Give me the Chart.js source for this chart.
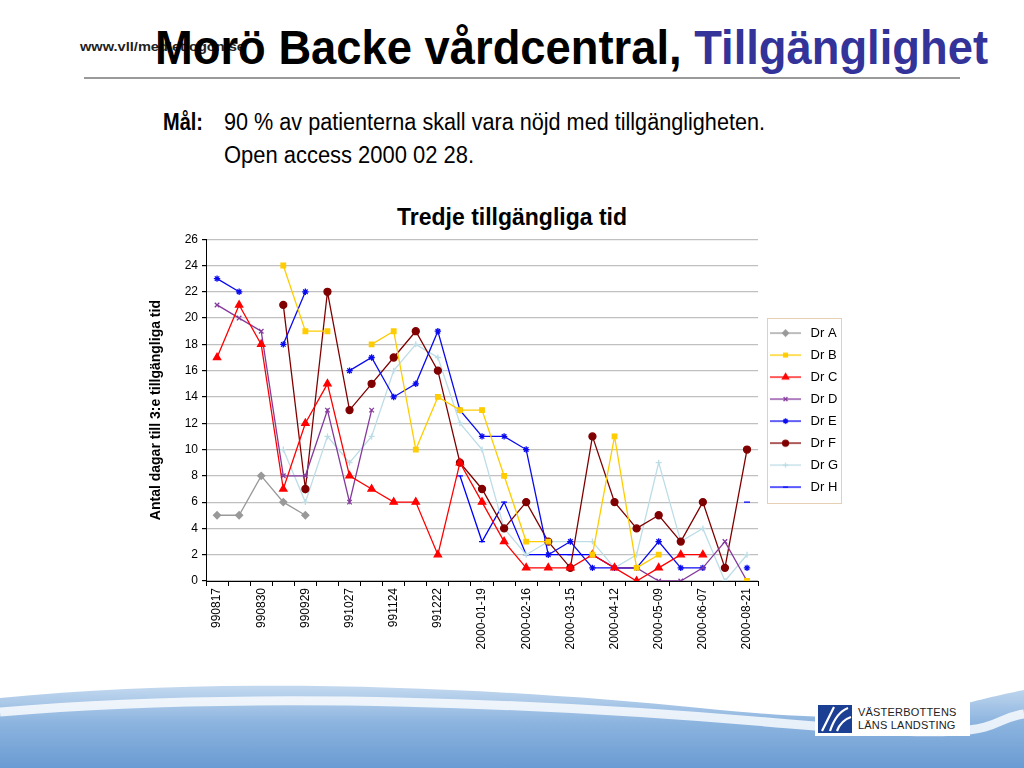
<!DOCTYPE html>
<html lang="sv">
<head>
<meta charset="UTF-8">
<title>Morö Backe vårdcentral, Tillgänglighet</title>
<script src="https://cdn.jsdelivr.net/npm/chart.js"></script>
<style>
    html, body { margin: 0; padding: 0; }
    body {
        width: 1024px;
        height: 768px;
        position: relative;
        overflow: hidden;
        background: #fff;
        font-family: 'Liberation Sans', Arial, sans-serif;
    }
    .abs { position: absolute; white-space: nowrap; line-height: 1; transform-origin: 0 0; }
    #url { left: 80px; top: 41px; font-size: 12px; font-weight: bold; color: #222; }
    #rubrik { left: 155px; top: 24px; font-size: 48px; font-weight: bold; color: #000; }
    #rubrik span { color: #333399; }
    #linje { position: absolute; left: 84px; top: 77px; width: 876px; height: 2px; background: #9a9a9a; }
    #malEtikett { left: 163px; top: 111px; font-size: 23px; font-weight: bold; }
    #mal { left: 224px; top: 111px; font-size: 23px; }
    #open { left: 224px; top: 144px; font-size: 23px; }
    #diagramrubrik { left: 0; width: 1024px; text-align: center; top: 206px; font-size: 23px; font-weight: bold; }
    #ruta { position: absolute; left: 140px; top: 228px; width: 710px; height: 433px; }
    #botten { position: absolute; left: 0; top: 668px; }
    #logo { position: absolute; left: 815px; top: 700px; width: 155px; height: 36px; background: #fff; }
    #logo .t { position: absolute; left: 43px; font-size: 11px; color: #222; letter-spacing: 0.2px; }
</style>
</head>
<body>
<div id="url" class="abs">www.vll/medlet.ogon.se</div>
<div id="rubrik" class="abs">Morö Backe vårdcentral, <span>Tillgänglighet</span></div>
<div id="linje"></div>
<div id="malEtikett" class="abs">Mål:</div>
<div id="mal" class="abs">90 % av patienterna skall vara nöjd med tillgängligheten.</div>
<div id="open" class="abs">Open access 2000 02 28.</div>
<div id="diagramrubrik" class="abs">Tredje tillgängliga tid</div>
<div id="ruta"><canvas id="diagram"></canvas></div>

<svg id="botten" width="1024" height="100" viewBox="0 0 1024 100">
    <defs>
        <linearGradient id="bla" x1="0" y1="0" x2="0" y2="1">
            <stop offset="0" stop-color="#c4d9ef"/>
            <stop offset="0.45" stop-color="#8cb4df"/>
            <stop offset="1" stop-color="#6a9bd3"/>
        </linearGradient>
    </defs>
    <path d="M0,30 C220,8 480,18 700,40 S930,40 1024,22 L1024,100 L0,100 Z" fill="url(#bla)"/>
    <path d="M0,44 C260,22 560,36 790,56 S980,52 1024,46" fill="none" stroke="#ffffff" stroke-opacity="0.8" stroke-width="9"/>
</svg>
<div id="logo">
    <svg width="34" height="28" viewBox="0 0 34 28" style="position:absolute;left:3px;top:5px">
        <rect width="34" height="28" fill="#1b3f92"/>
        <path d="M4,26 L16,2 M12,26 C16,14 22,6 30,3 M19,26 C22,18 27,14 33,12" stroke="#fff" stroke-width="2.2" fill="none"/>
    </svg>
    <div class="t" style="top:6px">VÄSTERBOTTENS</div>
    <div class="t" style="top:19px">LÄNS LANDSTING</div>
</div>

<script>
    // mätdatum (varannan kategori saknar etikett i originalet)
    const datum = ['990817', '', '990830', '', '990929', '', '991027', '', '991124', '', '991222', '',
        '2000-01-19', '', '2000-02-16', '', '2000-03-15', '', '2000-04-12', '', '2000-05-09', '',
        '2000-06-07', '', '2000-08-21'];

    const drA = [5, 5, 8, 6, 5, null, null, null, null, null, null, null, null, null, null, null, null, null, null, null, null, null, null, null, null];
    const drB = [null, null, null, 24, 19, 19, null, 18, 19, 10, 14, 13, 13, 8, 3, 3, null, 2, 11, 1, 2, null, null, null, 0];
    const drC = [17, 21, 18, 7, 12, 15, 8, 7, 6, 6, 2, 9, 6, 3, 1, 1, 1, 2, 1, 0, 1, 2, 2, null, null];
    const drD = [21, 20, 19, 8, 8, 13, 6, 13, null, null, null, null, null, null, null, null, null, null, 1, 1, 0, 0, 1, 3, 0];
    const drE = [23, 22, null, 18, 22, null, 16, 17, 14, 15, 19, 13, 11, 11, 10, 2, 3, 1, 1, 1, 3, 1, 1, null, 1];
    const drF = [null, null, null, 21, 7, 22, 13, 15, 17, 19, 16, 9, 7, 4, 6, 3, 1, 11, 6, 4, 5, 3, 6, 1, 10];
    const drG = [null, null, null, 10, 6, 11, 9, 11, 16, 18, 17, 12, 10, 4, 2, 3, 3, 3, 1, 2, 9, 3, 4, 0, 2];
    const drH = [null, null, null, null, null, null, null, null, null, null, null, 8, 3, 6, 2, 2, 2, 2, 1, 1, null, null, null, null, 6];

    const namn = ['Dr A', 'Dr B', 'Dr C', 'Dr D', 'Dr E', 'Dr F', 'Dr G', 'Dr H'];
    const serier = [drA, drB, drC, drD, drE, drF, drG, drH];
    const farger = ['#999999', '#ffcc00', '#ff0000', '#84399c', '#0a0aee', '#800000', '#bddde6', '#0000ff'];
    const markorer = ['rectRot', 'rect', 'triangle', 'crossRot', 'star', 'circle', 'cross', 'line'];
    const radier = [3.5, 3.2, 4.2, 3.2, 3.2, 3.5, 3, 3];

    function passaBredd(id, bredd) {
        const el = document.getElementById(id);
        const w = el.getBoundingClientRect().width;
        el.style.transform = 'scaleX(' + (bredd / w) + ')';
    }
    passaBredd('url', 165);
    passaBredd('rubrik', 833);
    passaBredd('malEtikett', 40);
    passaBredd('mal', 541);
    passaBredd('open', 250);

    // små ikoner med linje + markör till förklaringen
    function ikon(i) {
        const c = document.createElement('canvas');
        c.width = 31;
        c.height = 12;
        const ctx = c.getContext('2d');
        ctx.strokeStyle = farger[i];
        ctx.fillStyle = farger[i];
        ctx.lineWidth = 1.3;
        ctx.beginPath();
        ctx.moveTo(0, 6);
        ctx.lineTo(31, 6);
        ctx.stroke();
        if (Chart.helpers && Chart.helpers.drawPoint) {
            Chart.helpers.drawPoint(ctx, { pointStyle: markorer[i], radius: radier[i] * 0.85, borderWidth: 1.3, rotation: 0 }, 15.5, 6);
        }
        return c;
    }

    const legendRam = {
        id: 'legendRam',
        afterDraw(chart) {
            const boxes = chart.legend && chart.legend.legendHitBoxes;
            if (!boxes || !boxes.length) return;
            let l = Infinity, t = Infinity, r = -Infinity, b = -Infinity;
            boxes.forEach(h => {
                l = Math.min(l, h.left);
                t = Math.min(t, h.top);
                r = Math.max(r, h.left + h.width);
                b = Math.max(b, h.top + h.height);
            });
            const ctx = chart.ctx;
            ctx.save();
            ctx.strokeStyle = '#e6cfb3';
            ctx.lineWidth = 1;
            ctx.strokeRect(Math.round(l) + 0.5, Math.round(t - 9) + 0.5, Math.round(r - l + 3), Math.round(b - t + 18));
            ctx.restore();
        }
    };

    Chart.defaults.font.family = "'Liberation Sans', Arial, sans-serif";
    Chart.defaults.color = '#000';

    new Chart(document.getElementById('diagram'), {
        type: 'line',
        data: {
            labels: datum,
            datasets: serier.map((d, i) => ({
                label: namn[i],
                data: d,
                borderColor: farger[i],
                backgroundColor: farger[i],
                borderWidth: 1.3,
                pointStyle: markorer[i],
                pointRadius: radier[i],
                pointBorderWidth: 1.3,
                tension: 0,
                fill: false
            }))
        },
        options: {
            responsive: true,
            maintainAspectRatio: false,
            animation: false,
            layout: { padding: { left: 6, right: 2, top: 6, bottom: 0 } },
            plugins: {
                tooltip: { enabled: false },
                legend: {
                    position: 'right',
                    fullSize: false,
                    labels: {
                        usePointStyle: true,
                        pointStyleWidth: 37,
                        padding: 9,
                        font: { size: 13 },
                        generateLabels(chart) {
                            const items = Chart.defaults.plugins.legend.labels.generateLabels(chart);
                            items.forEach((it, i) => { it.pointStyle = ikon(i); });
                            return items;
                        }
                    }
                }
            },
            scales: {
                x: {
                    offset: true,
                    grid: { display: true, drawOnChartArea: false, offset: true, tickLength: 5, color: '#000' },
                    border: { color: '#000', width: 1 },
                    ticks: { autoSkip: false, maxRotation: 90, minRotation: 90, font: { size: 12 }, padding: 2 },
                    afterFit(scale) { scale.height = 80; }
                },
                y: {
                    min: 0,
                    max: 26,
                    ticks: { stepSize: 2, font: { size: 12 }, padding: 4 },
                    grid: { color: '#c0c0c0', lineWidth: 1.2, tickLength: 4, tickColor: '#000' },
                    border: { color: '#000', width: 1 },
                    title: { display: true, text: 'Antal dagar till 3:e tillgängliga tid', font: { size: 14, weight: 'bold' }, padding: 2 },
                    afterFit(scale) { scale.width = 60; }
                }
            }
        },
        plugins: [legendRam]
    });
</script>
</body>
</html>
